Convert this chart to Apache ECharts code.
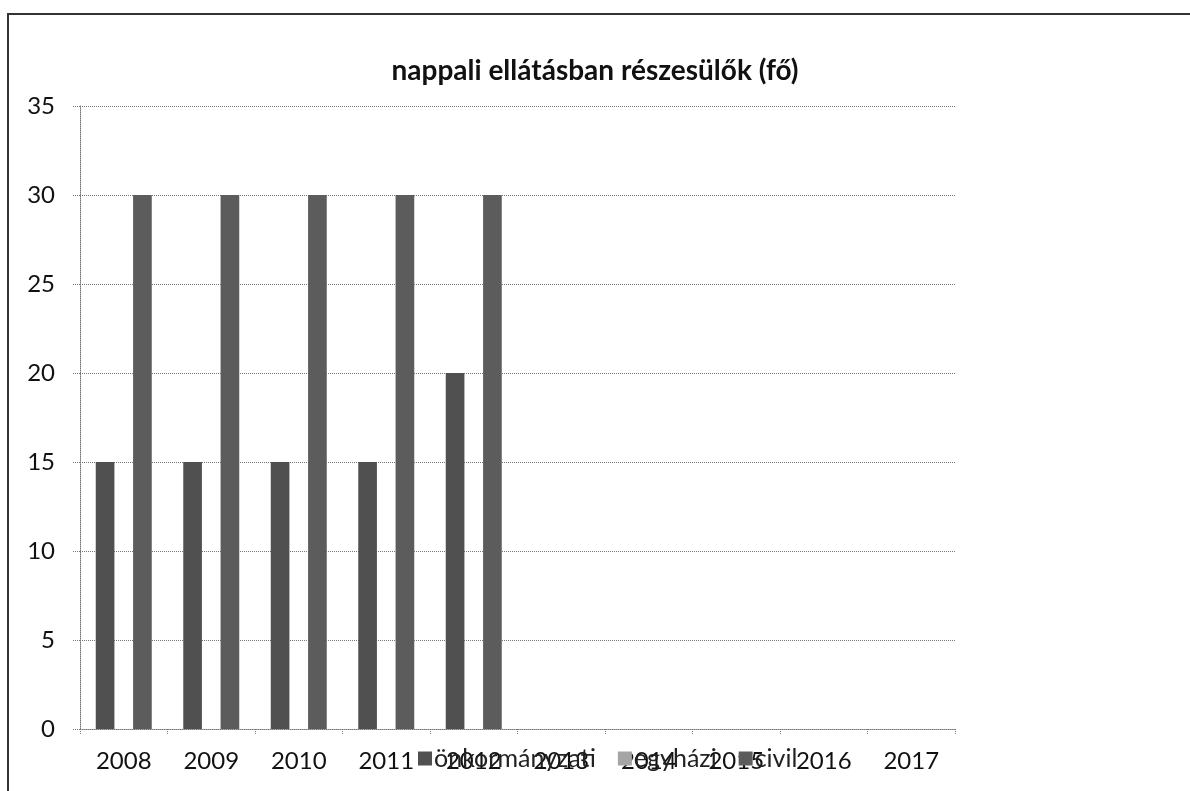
<!DOCTYPE html>
<html>
<head>
<meta charset="utf-8">
<title>nappali ellátásban részesülők</title>
<script src="https://cdn.jsdelivr.net/npm/echarts@6/dist/echarts.min.js"></script>
<style>
  html, body { margin: 0; padding: 0; background: #fff; }
  #chart { width: 1190px; height: 791px; }
</style>
</head>
<body>
<div id="chart"></div>
<script>
// adatok
var years = ['2008', '2009', '2010', '2011', '2012', '2013', '2014', '2015', '2016', '2017'];
var onkormanyzati = [15, 15, 15, 15, 20, null, null, null, null, null];
var egyhazi = [null, null, null, null, null, null, null, null, null, null];
var civil = [30, 30, 30, 30, 30, null, null, null, null, null];
var yTicks = [0, 5, 10, 15, 20, 25, 30, 35];

var myChart = echarts.init(document.getElementById('chart'));

var font = 'Lato, "Open Sans", sans-serif';
var dotted = { color: '#777', type: 'dotted', width: 1 };

var option = {
  backgroundColor: '#fff',
  animation: false,
  title: {
    text: 'nappali ellátásban részesülők (fő)',
    left: 'center',
    top: 52,
    textStyle: { fontFamily: font, fontSize: 28, fontWeight: 'bold', color: '#111' }
  },
  // keret
  graphic: [{
    type: 'rect',
    shape: { x: 8, y: 14, width: 1250, height: 850 },
    style: { fill: 'none', stroke: '#333', lineWidth: 2 },
    silent: true
  }],
  legend: {
    left: 413,
    top: 741,
    itemWidth: 14,
    itemHeight: 14,
    itemGap: 22,
    icon: 'rect',
    textStyle: { fontFamily: font, fontSize: 25, color: '#222', padding: [0, 0, 0, -3] },
    data: ['önkormányzati', 'egyházi', 'civil']
  },
  grid: { left: 80, right: 235, top: 106, bottom: 62 },
  xAxis: {
    type: 'category',
    data: years,
    axisLine: { lineStyle: dotted },
    axisTick: { show: true, length: 5, lineStyle: dotted },
    axisLabel: { fontFamily: font, fontSize: 24, color: '#111', margin: 20 }
  },
  yAxis: {
    type: 'value',
    min: yTicks[0],
    max: yTicks[yTicks.length - 1],
    interval: 5,
    axisLine: { show: true, lineStyle: dotted },
    axisTick: { show: true, length: 8, lineStyle: dotted },
    splitLine: { lineStyle: dotted },
    axisLabel: { fontFamily: font, fontSize: 24, color: '#111', margin: 25 }
  },
  series: [
    {
      name: 'önkormányzati',
      type: 'bar',
      data: onkormanyzati,
      barGap: '0%',
      barCategoryGap: '36%',
      itemStyle: { color: '#505050' }
    },
    {
      name: 'egyházi',
      type: 'bar',
      data: egyhazi,
      itemStyle: { color: '#a5a5a5' }
    },
    {
      name: 'civil',
      type: 'bar',
      data: civil,
      itemStyle: { color: '#5c5c5c' }
    }
  ]
};

myChart.setOption(option);
</script>
</body>
</html>
